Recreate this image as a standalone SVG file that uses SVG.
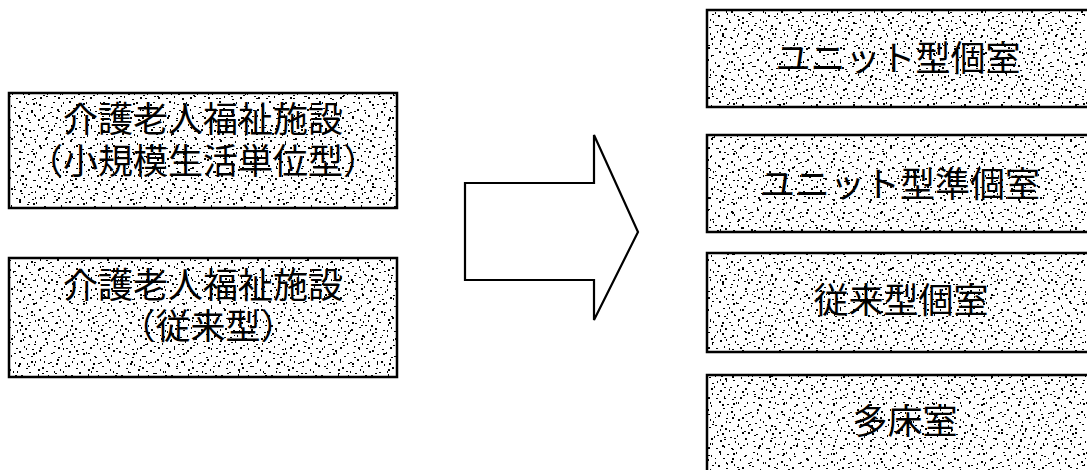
<svg xmlns="http://www.w3.org/2000/svg" width="1087" height="470" viewBox="0 0 1087 470">
<style>
.box{stroke:#000;stroke-width:2.5}
.bg{fill:#fff;stroke:none}
.t{font-family:"Liberation Sans","Noto Sans CJK JP","Noto Sans CJK SC",sans-serif;font-size:35px;fill:#000;text-anchor:middle}
.arrow{fill:#fff;stroke:#000;stroke-width:2.2;stroke-linejoin:miter}
</style>
<defs>
<pattern id="sp1" width="50" height="50" patternUnits="userSpaceOnUse">
<path fill="#000" d="M3 2h2v1h-2zM11 5h1v2h-1zM19 1h2v2h-2zM27 4h2v1h-2zM36 2h1v2h-1zM44 6h2v1h-2zM7 9h2v2h-2zM15 12h1v2h-1zM23 8h2v1h-2zM31 11h2v2h-2zM40 9h1v2h-1zM48 13h2v1h-2zM2 16h2v1h-2zM10 19h1v2h-1zM18 15h2v2h-2zM26 18h2v1h-2zM34 14h1v2h-1zM42 17h2v2h-2zM5 23h2v1h-2zM13 21h1v2h-1zM21 25h2v2h-2zM29 22h2v1h-2zM38 24h1v2h-1zM46 21h2v1h-2zM1 29h2v2h-2zM9 27h2v1h-2zM17 31h1v2h-1zM25 28h2v2h-2zM33 30h2v1h-2zM41 27h1v2h-1zM48 32h2v2h-2zM6 34h2v1h-2zM14 36h1v2h-1zM22 33h2v2h-2zM30 37h2v1h-2zM37 35h1v2h-1zM45 38h2v2h-2zM3 41h2v1h-2zM12 43h1v2h-1zM20 40h2v2h-2zM28 44h2v1h-2zM35 41h1v2h-1zM43 45h2v1h-2zM8 47h2v2h-2zM16 48h2v1h-2zM24 46h1v2h-1zM32 49h2v1h-2zM40 47h2v2h-2zM47 43h1v2h-1zM0 12h2v1h-2zM38 19h2v2h-2zM20 29h1v2h-1zM44 31h2v1h-2zM11 38h2v2h-2zM27 13h1v2h-1zM4 46h2v1h-2zM33 3h2v2h-2zM15 25h2v1h-2zM48 25h1v2h-1zM24 37h2v1h-2z"/>
</pattern>
<pattern id="sp2" width="37" height="41" patternUnits="userSpaceOnUse">
<path fill="#000" d="M5 4h2v1h-2zM17 2h1v2h-1zM29 7h2v2h-2zM9 14h2v1h-2zM23 11h1v2h-1zM34 16h2v1h-2zM2 22h2v2h-2zM14 25h2v1h-2zM26 20h1v2h-1zM31 28h2v1h-2zM7 33h1v2h-1zM19 35h2v2h-2zM28 38h2v1h-2zM12 7h1v1h-1zM35 33h1v2h-1zM21 29h2v1h-2z"/>
</pattern>
</defs>

<g id="connectors">
<polygon class="arrow" points="465,183 594,183 594,135 638,232 594,320 594,280 465,280"/>
</g>

<g id="node-left-1">
<rect class="bg" x="9" y="93" width="388" height="115"/>
<rect x="9" y="93" width="388" height="115" fill="url(#sp1)"/>
<rect x="9" y="93" width="388" height="115" fill="url(#sp2)"/>
<rect class="box" x="9" y="93" width="388" height="115" fill="none"/>
<text class="t" x="203" y="132">介護老人福祉施設</text>
<text class="t" x="203" y="174">（小規模生活単位型）</text>
</g>

<g id="node-left-2">
<rect class="bg" x="9" y="258" width="388" height="119"/>
<rect x="9" y="258" width="388" height="119" fill="url(#sp1)"/>
<rect x="9" y="258" width="388" height="119" fill="url(#sp2)"/>
<rect class="box" x="9" y="258" width="388" height="119" fill="none"/>
<text class="t" x="203" y="298">介護老人福祉施設</text>
<text class="t" x="208" y="339">（従来型）</text>
</g>

<g id="node-right-1">
<rect class="bg" x="707" y="10" width="390" height="97"/>
<rect x="707" y="10" width="390" height="97" fill="url(#sp1)"/>
<rect x="707" y="10" width="390" height="97" fill="url(#sp2)"/>
<rect class="box" x="707" y="10" width="390" height="97" fill="none"/>
<text class="t" x="898" y="71">ユニット型個室</text>
</g>

<g id="node-right-2">
<rect class="bg" x="707" y="135" width="390" height="97"/>
<rect x="707" y="135" width="390" height="97" fill="url(#sp1)"/>
<rect x="707" y="135" width="390" height="97" fill="url(#sp2)"/>
<rect class="box" x="707" y="135" width="390" height="97" fill="none"/>
<text class="t" x="900" y="197">ユニット型準個室</text>
</g>

<g id="node-right-3">
<rect class="bg" x="707" y="253" width="390" height="99"/>
<rect x="707" y="253" width="390" height="99" fill="url(#sp1)"/>
<rect x="707" y="253" width="390" height="99" fill="url(#sp2)"/>
<rect class="box" x="707" y="253" width="390" height="99" fill="none"/>
<text class="t" x="901" y="313">従来型個室</text>
</g>

<g id="node-right-4">
<rect class="bg" x="707" y="375" width="390" height="110"/>
<rect x="707" y="375" width="390" height="110" fill="url(#sp1)"/>
<rect x="707" y="375" width="390" height="110" fill="url(#sp2)"/>
<rect class="box" x="707" y="375" width="390" height="110" fill="none"/>
<text class="t" x="905" y="434">多床室</text>
</g>
</svg>
